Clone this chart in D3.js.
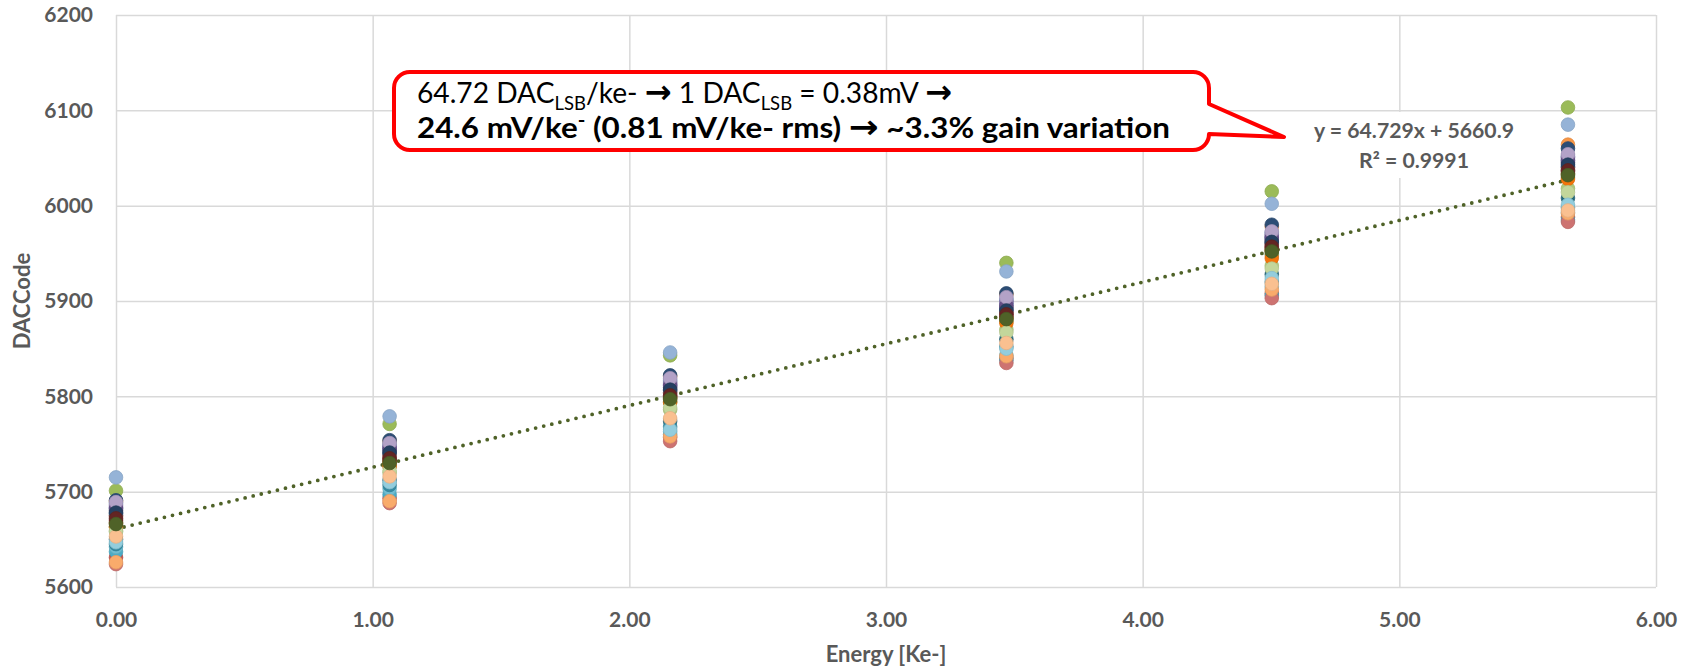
<!DOCTYPE html>
<html>
<head>
<meta charset="utf-8">
<script src="https://cdn.jsdelivr.net/npm/d3@7"></script>
<style>
  body { margin: 0; background: #fff; }
  svg { display: block; }
  text { font-family: Lato, "Open Sans", "Liberation Sans", sans-serif; }
</style>
</head>
<body>
<svg id="chart" width="1696" height="672"></svg>
<script>
// Injected charge (ke-) at each measurement step
const energyKe = [0, 1.066, 2.159, 3.469, 4.503, 5.657];
const xTicks = [0, 1, 2, 3, 4, 5, 6];
const yTicks = [5600, 5700, 5800, 5900, 6000, 6100, 6200];

// DAC threshold code per channel at each energy step
const ch01 = [5683, 5746, 5812, 5897, 5967, 6048];
const ch02 = [5631, 5693, 5757, 5840, 5908, 5988];
const ch03 = [5701, 5771, 5843, 5940, 6015, 6103];
const ch04 = [5686, 5748, 5815, 5900, 5970, 6051];
const ch05 = [5637, 5697, 5760, 5838, 5906, 5985];
const ch06 = [5690, 5753, 5821, 5907, 5978, 6064];
const ch07 = [5691, 5754, 5822, 5908, 5980, 6060];
const ch08 = [5675, 5738, 5804, 5888, 5960, 6040];
const ch09 = [5668, 5732, 5799, 5883, 5954, 6034];
const ch10 = [5680, 5743, 5809, 5893, 5964, 6045];
const ch11 = [5650, 5712, 5774, 5860, 5928, 6008];
const ch12 = [5667, 5731, 5798, 5882, 5953, 6033];
const ch13 = [5688, 5750, 5817, 5902, 5972, 6052];
const ch14 = [5624, 5688, 5753, 5835, 5903, 5983];
const ch15 = [5658, 5720, 5786, 5870, 5937, 6018];
const ch16 = [5684, 5747, 5813, 5898, 5968, 6050];
const ch17 = [5642, 5703, 5763, 5843, 5915, 5993];
const ch18 = [5626, 5690, 5758, 5842, 5912, 5992];
const ch19 = [5677, 5740, 5806, 5891, 5961, 6041];
const ch20 = [5670, 5734, 5800, 5885, 5956, 6036];
const ch21 = [5663, 5727, 5794, 5879, 5949, 6030];
const ch22 = [5682, 5745, 5811, 5895, 5966, 6047];
const ch23 = [5645, 5707, 5768, 5852, 5920, 5998];
const ch24 = [5663, 5727, 5794, 5877, 5945, 6028];
const ch25 = [5715, 5779, 5846, 5931, 6002, 6085];
const ch26 = [5674, 5737, 5803, 5887, 5958, 6038];
const ch27 = [5659, 5722, 5788, 5867, 5934, 6014];
const ch28 = [5689, 5751, 5819, 5904, 5973, 6054];
const ch29 = [5647, 5710, 5765, 5850, 5924, 6001];
const ch30 = [5653, 5716, 5777, 5856, 5918, 5995];
const ch31 = [5678, 5741, 5807, 5890, 5962, 6043];
const ch32 = [5672, 5735, 5801, 5886, 5957, 6037];
const ch33 = [5666, 5730, 5797, 5881, 5952, 6032];

const channels = [ch01, ch02, ch03, ch04, ch05, ch06, ch07, ch08, ch09, ch10, ch11,
  ch12, ch13, ch14, ch15, ch16, ch17, ch18, ch19, ch20, ch21, ch22, ch23, ch24,
  ch25, ch26, ch27, ch28, ch29, ch30, ch31, ch32, ch33];

const channelColors = [
  "#4F81BD", "#C0504D", "#9BBB59", "#8064A2", "#4BACC6", "#F79646",
  "#2C4D75", "#772C2A", "#5F7530", "#4D3B62", "#276A7C", "#B65708",
  "#729ACA", "#CD7371", "#AFC97A", "#9983B5", "#6FBDD1", "#F9AB6B",
  "#3A679C", "#9E3D3A", "#7D9A47", "#664F86", "#358BA3", "#F3740B",
  "#95B3D7", "#D99694", "#C3D69B", "#B3A2C7", "#93CDDD", "#FAC090",
  "#254061", "#632523", "#4F6228"
];

// Linear fit reported for the reference channel
const fitSlope = 64.729;
const fitIntercept = 5660.9;
const fitR2 = 0.9991;

const svg = d3.select("#chart");
const W = 1696, H = 672;
const plot = { left: 116, right: 1656, top: 15, bottom: 587 };
const axisGrey = "#595959";
const gridGrey = "#D9D9D9";
const labelFont = "Lato, 'Open Sans', sans-serif";

svg.append("rect").attr("width", W).attr("height", H).attr("fill", "#fff");

const x = d3.scaleLinear().domain([0, 6]).range([plot.left, plot.right]);
const y = d3.scaleLinear().domain([5600, 6200]).range([plot.bottom, plot.top]);

// Y axis with horizontal gridlines
const yAxis = svg.append("g")
  .attr("transform", `translate(${plot.left},0)`)
  .call(d3.axisLeft(y).tickValues(yTicks).tickFormat(d3.format("d"))
    .tickSize(-(plot.right - plot.left)).tickPadding(23));
yAxis.select(".domain").remove();
yAxis.selectAll(".tick line").attr("stroke", gridGrey).attr("stroke-width", 1.5);
yAxis.selectAll(".tick text")
  .attr("fill", axisGrey).attr("font-size", 21).attr("font-weight", 700)
  .attr("font-family", labelFont);

// X axis with vertical gridlines
const xAxis = svg.append("g")
  .attr("transform", `translate(0,${plot.bottom})`)
  .call(d3.axisBottom(x).tickValues(xTicks).tickFormat(d3.format(".2f"))
    .tickSize(-(plot.bottom - plot.top)).tickPadding(25));
xAxis.select(".domain").remove();
xAxis.selectAll(".tick line").attr("stroke", gridGrey).attr("stroke-width", 1.5);
xAxis.selectAll(".tick text")
  .attr("fill", axisGrey).attr("font-size", 21).attr("font-weight", 700)
  .attr("font-family", labelFont);

// Axis titles
svg.append("text")
  .attr("x", (plot.left + plot.right) / 2).attr("y", 662)
  .attr("text-anchor", "middle").attr("fill", axisGrey)
  .attr("font-size", 22).attr("font-weight", 700)
  .text("Energy [Ke-]");

svg.append("text")
  .attr("transform", `translate(30,${(plot.top + plot.bottom) / 2}) rotate(-90)`)
  .attr("text-anchor", "middle").attr("fill", axisGrey)
  .attr("font-size", 22).attr("font-weight", 700)
  .text("DACCode");

// Dotted linear trendline across the measured range
const xMax = d3.max(energyKe);
svg.append("line")
  .attr("x1", x(0)).attr("y1", y(fitIntercept))
  .attr("x2", x(xMax)).attr("y2", y(fitSlope * xMax + fitIntercept))
  .attr("stroke", "#4F6228").attr("stroke-width", 3.8)
  .attr("stroke-linecap", "round").attr("stroke-dasharray", "0 8.3");

// Markers, one series per channel (later channels on top)
const series = svg.append("g");
channels.forEach((vals, i) => {
  series.append("g")
    .selectAll("circle")
    .data(vals.map((v, k) => ({ e: energyKe[k], v })))
    .join("circle")
    .attr("cx", d => x(d.e))
    .attr("cy", d => y(d.v))
    .attr("r", 6.8)
    .attr("fill", channelColors[i])
    .attr("stroke", d3.color(channelColors[i]).darker(0.25))
    .attr("stroke-width", 0.8);
});

// Trendline equation label
const eq = svg.append("g");
eq.append("rect")
  .attr("x", 1305).attr("y", 112).attr("width", 218).attr("height", 66)
  .attr("fill", "#fff");
eq.append("text")
  .attr("x", 1414).attr("y", 138).attr("text-anchor", "middle")
  .attr("fill", axisGrey).attr("font-size", 21).attr("font-weight", 700)
  .attr("textLength", 200).attr("lengthAdjust", "spacingAndGlyphs")
  .text(`y = ${fitSlope}x + ${fitIntercept}`);
eq.append("text")
  .attr("x", 1414).attr("y", 168).attr("text-anchor", "middle")
  .attr("fill", axisGrey).attr("font-size", 21).attr("font-weight", 700)
  .attr("textLength", 110).attr("lengthAdjust", "spacingAndGlyphs")
  .text(`R² = ${fitR2}`);

// Red callout box with its pointer towards the fit label
const box = { x0: 394, y0: 72, x1: 1209, y1: 150, r: 16 };
const tail = { top: 104, bottom: 134, tipX: 1284, tipY: 137 };
const p = d3.path();
p.moveTo(box.x0 + box.r, box.y0);
p.lineTo(box.x1 - box.r, box.y0);
p.arcTo(box.x1, box.y0, box.x1, box.y0 + box.r, box.r);
p.lineTo(box.x1, tail.top);
p.lineTo(tail.tipX, tail.tipY);
p.lineTo(box.x1, tail.bottom);
p.arcTo(box.x1, box.y1, box.x1 - box.r, box.y1, box.r);
p.lineTo(box.x0 + box.r, box.y1);
p.arcTo(box.x0, box.y1, box.x0, box.y1 - box.r, box.r);
p.lineTo(box.x0, box.y0 + box.r);
p.arcTo(box.x0, box.y0, box.x0 + box.r, box.y0, box.r);
p.closePath();
svg.append("path").attr("d", p.toString())
  .attr("fill", "#fff").attr("stroke", "#FF0000").attr("stroke-width", 4)
  .attr("stroke-linejoin", "round");

const arrowFont = "DejaVu Sans";
const line1 = svg.append("text")
  .attr("x", 417).attr("y", 103).attr("font-size", 29).attr("fill", "#000")
  .attr("textLength", 535).attr("lengthAdjust", "spacingAndGlyphs");
line1.append("tspan").text("64.72 DAC");
line1.append("tspan").attr("font-size", 19).attr("dy", 7).text("LSB");
line1.append("tspan").attr("dy", -7).text("/ke- ");
line1.append("tspan").attr("font-weight", 700).attr("font-size", 33).attr("font-family", arrowFont).text("→");
line1.append("tspan").text(" 1 DAC");
line1.append("tspan").attr("font-size", 19).attr("dy", 7).text("LSB");
line1.append("tspan").attr("dy", -7).text(" = 0.38mV ");
line1.append("tspan").attr("font-weight", 700).attr("font-size", 33).attr("font-family", arrowFont).text("→");

const line2 = svg.append("text")
  .attr("x", 417).attr("y", 138).attr("font-size", 29).attr("font-weight", 700)
  .attr("fill", "#000")
  .attr("textLength", 753).attr("lengthAdjust", "spacingAndGlyphs");
line2.append("tspan").text("24.6 mV/ke");
line2.append("tspan").attr("font-size", 19).attr("dy", -11).text("-");
line2.append("tspan").attr("dy", 11).text(" (0.81 mV/ke- rms) ");
line2.append("tspan").attr("font-size", 33).attr("font-family", arrowFont).text("→");
line2.append("tspan").text(" ~3.3% gain variation");
</script>
</body>
</html>
